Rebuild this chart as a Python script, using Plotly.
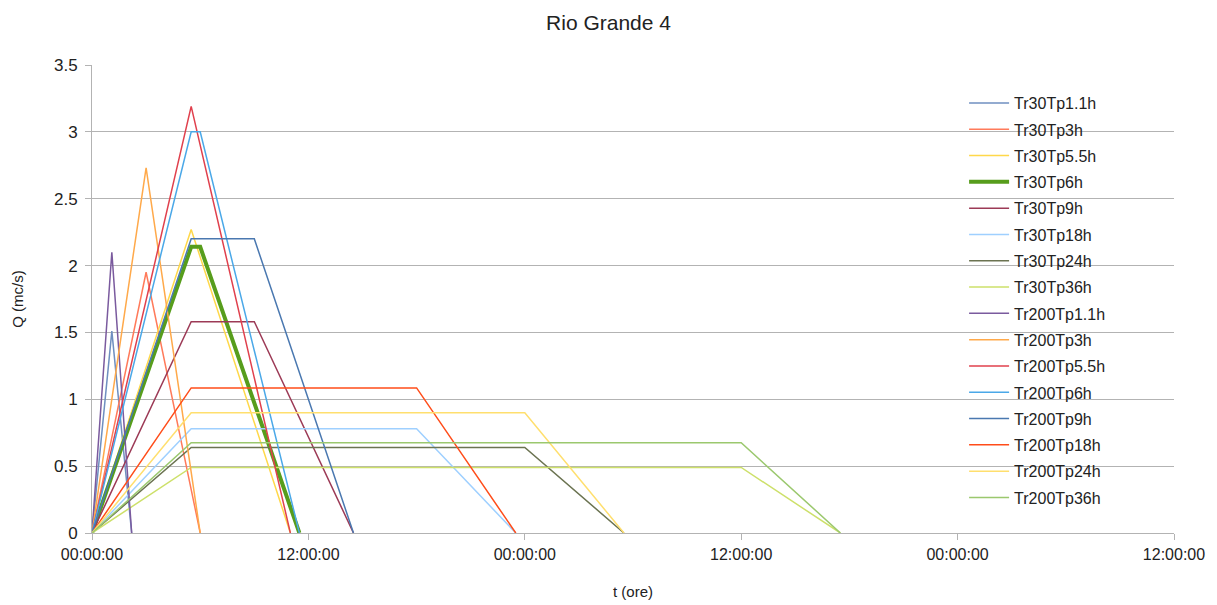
import plotly.graph_objects as go

# Hydrograph vertices (hours) for each rain duration Tp
tp_labels = ["1.1", "3", "5.5", "6", "9", "18", "24", "36"]
tp_times = [
    [0, 1.1, 2.2],
    [0, 3, 6],
    [0, 5.5, 11],
    [0, 5.5, 6, 11.5],
    [0, 5.5, 9, 14.5],
    [0, 5.5, 18, 23.5],
    [0, 5.5, 24, 29.5],
    [0, 5.5, 36, 41.5],
]

# Peak discharge (mc/s) for return periods 30 and 200 years
peak_tr30 = [1.51, 1.95, 2.27, 2.14, 1.58, 0.78, 0.64, 0.49]
peak_tr200 = [2.10, 2.73, 3.19, 3.00, 2.20, 1.085, 0.90, 0.675]

colors_tr30 = ["#6f8fc0", "#ff7a5a", "#ffd84a", "#579d1c",
               "#9c3a56", "#9fd0ff", "#6b7351", "#cde06a"]
colors_tr200 = ["#7a5a9e", "#ffa94a", "#e0404d", "#4aa8e8",
                "#4a78b0", "#ff4d1a", "#ffdf6e", "#9bc86e"]

x_tickvals = [0, 12, 24, 36, 48, 60]
x_ticktext = ["00:00:00", "12:00:00", "00:00:00", "12:00:00", "00:00:00", "12:00:00"]


def shape_values(times, peak):
    if len(times) == 3:
        return [0, peak, 0]
    return [0, peak, peak, 0]


fig = go.Figure()

series = []
for tr, peaks, cols in (("30", peak_tr30, colors_tr30), ("200", peak_tr200, colors_tr200)):
    for lab, times, pk, col in zip(tp_labels, tp_times, peaks, cols):
        series.append((f"Tr{tr}Tp{lab}h", times, shape_values(times, pk), col))

for i, (name, times, q, col) in enumerate(series):
    width = 4 if name == "Tr30Tp6h" else 1.5
    fig.add_trace(go.Scatter(
        x=times, y=q, mode="lines", name=name,
        line=dict(color=col, width=width),
        legendgroup=f"g{i}",
    ))

fig.update_layout(
    width=1217, height=605,
    margin=dict(l=92, r=43, t=65, b=72),
    paper_bgcolor="white", plot_bgcolor="white",
    font=dict(family="Liberation Sans, Arial, sans-serif", color="#222222"),
    title=dict(text="Rio Grande 4", x=0.5, xanchor="center", y=0.963, yanchor="middle",
               font=dict(size=21, color="#222222")),
    showlegend=True,
    legend=dict(x=0.806, y=0.955, xanchor="left", yanchor="top",
                bgcolor="rgba(0,0,0,0)", font=dict(size=16, color="#222222"),
                tracegroupgap=2.5, itemwidth=40),
    xaxis=dict(range=[0, 60], tickvals=x_tickvals, ticktext=x_ticktext,
               showgrid=False, zeroline=False, automargin=False,
               showline=True, linecolor="#b3b3b3", linewidth=1,
               ticks="outside", ticklen=6, tickcolor="#b3b3b3",
               tickfont=dict(size=16, color="#222222"), ticklabelstandoff=1,
               title=dict(text="t (ore)", font=dict(size=15, color="#222222"), standoff=24)),
    yaxis=dict(range=[0, 3.5], dtick=0.5, tickformat="~g",
               showgrid=True, gridcolor="#b3b3b3", gridwidth=1, zeroline=False,
               automargin=False,
               showline=True, linecolor="#b3b3b3", linewidth=1,
               ticks="outside", ticklen=6, tickcolor="#b3b3b3",
               tickfont=dict(size=17, color="#222222"), ticklabelstandoff=4,
               title=dict(text="Q (mc/s)", font=dict(size=15, color="#222222"), standoff=26)),
)

fig.write_html("out.html")
